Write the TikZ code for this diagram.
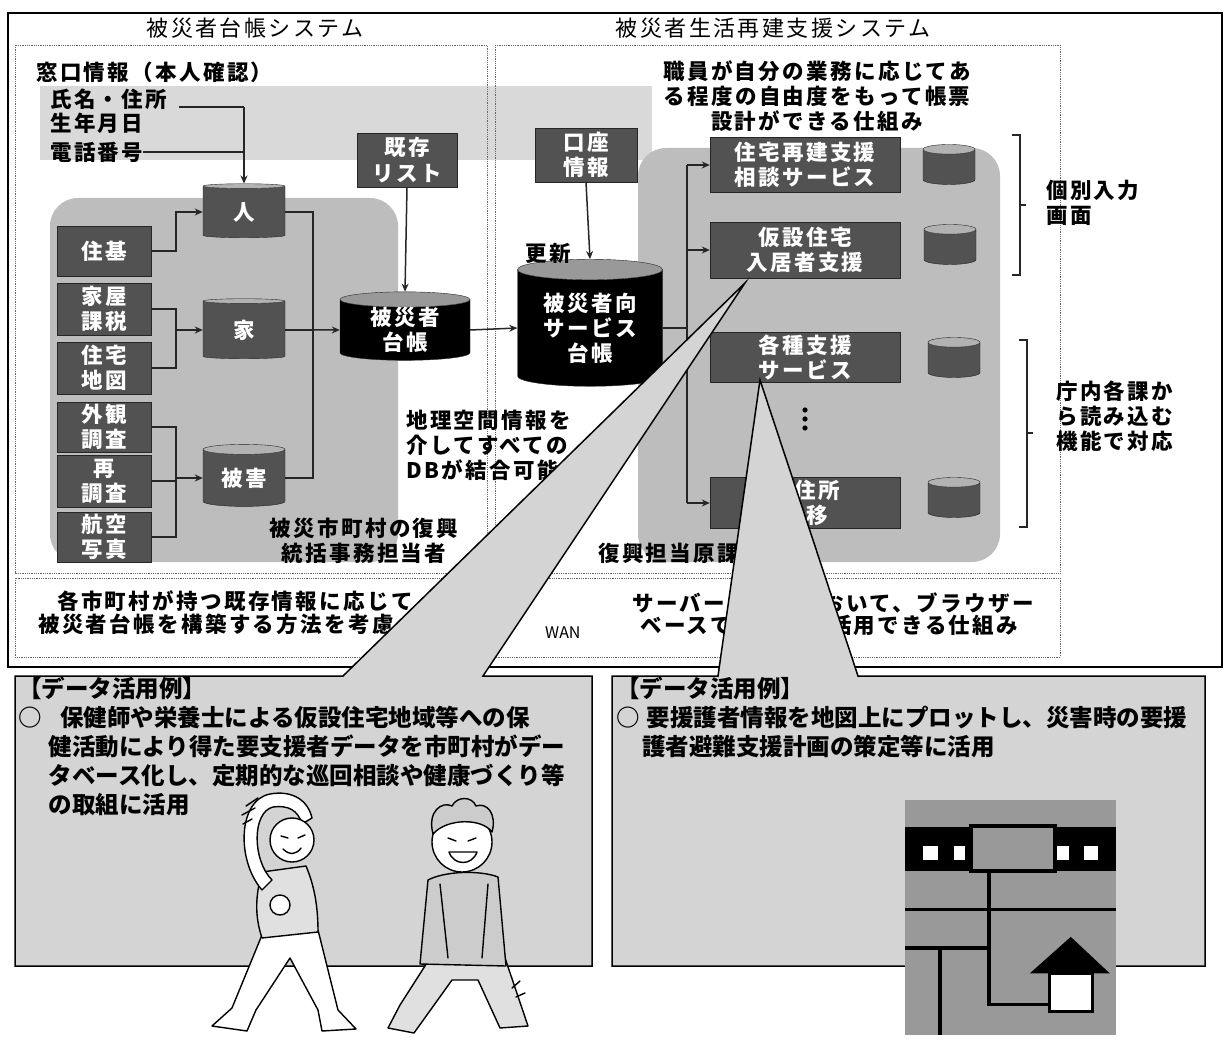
\documentclass[tikz,border=0pt]{standalone}
\usepackage{fontspec}
\setmainfont{Noto Sans CJK JP}
\newfontfamily\spaced{Noto Sans CJK JP}[LetterSpace=11]
\usetikzlibrary{positioning,shapes.geometric,arrows.meta,calc}

\begin{document}
\begin{tikzpicture}[x=1pt,y=-1pt,
    lbl/.style={inner sep=0pt, font={\spaced\bfseries\fontsize{21.5}{25}\selectfont}},
    title/.style={inner sep=0pt, font={\spaced\fontsize{22}{26}\selectfont}},
    note/.style={inner sep=0pt, anchor=north west, align=left, font={\bfseries\fontsize{23.5}{29}\selectfont}},
    src/.style={draw=black!85, fill=black!68, text=white, align=center, inner sep=0pt,
        minimum width=94pt, font={\spaced\bfseries\fontsize{21.5}{25}\selectfont}},
    svc/.style={src, minimum width=190pt},
    db/.style={cylinder, shape border rotate=90, aspect=0.22, draw=black!85,
        cylinder uses custom fill, cylinder body fill=black!68, cylinder end fill=black!30,
        text=white, inner sep=0pt, align=center, font={\spaced\bfseries\fontsize{21.5}{25}\selectfont}},
    maindb/.style={db, cylinder body fill=black, cylinder end fill=black!40},
    minidb/.style={db, aspect=0.45, minimum width=52pt, minimum height=40pt},
    panel/.style={draw=black!60, densely dotted, line width=0.8pt},
    wire/.style={draw=black!85, line width=1.5pt},
    flow/.style={wire, -{Stealth[length=8pt,width=7pt]}},
    callout/.style={draw=black, line width=1.5pt, fill=black!17, line join=miter},
    ink/.style={line width=1.4pt, line join=round, line cap=round},
  ]
  \useasboundingbox (0,0) rectangle (1226,1040);

  % frames and shaded areas
  \draw[line width=1.5pt] (8,13) rectangle (1222,667);
  \fill[black!15] (40,86) rectangle (652,160);
  \fill[black!26, rounded corners=28pt] (50,198) rectangle (398,562);
  \fill[black!26, rounded corners=28pt] (638,148) rectangle (1000,562);
  \draw[panel] (15,45) rectangle (487,573);
  \draw[panel] (495,45) rectangle (1060,573);
  \draw[panel] (15,578) rectangle (1060,657);

  \node[title] (sysA) at (255,28) {被災者台帳システム};
  \node[title] (sysB) at (773,28) {被災者生活再建支援システム};

  % counter information
  \node[lbl, anchor=west] (madoguchi) at (36,72) {窓口情報（本人確認）};
  \node[lbl, anchor=west] (shimei) at (50,99) {氏名・住所};
  \node[lbl, anchor=west] (seinen) at (50,123) {生年月日};
  \node[lbl, anchor=west] (denwa) at (50,152) {電話番号};

  % source data
  \node[src, minimum height=50pt] (juki) at (104,251) {住基};
  \node[src, minimum height=52pt] (kaoku) at (104,309) {家屋\\課税};
  \node[src, minimum height=52pt] (chizu) at (104,368) {住宅\\地図};
  \node[src, minimum height=50pt] (gaikan) at (104,427) {外観\\調査};
  \node[src, minimum height=52pt] (saichosa) at (104,481) {再\\調査};
  \node[src, minimum height=50pt] (koku) at (104,537) {航空\\写真};

  % databases of the ledger system
  \node[db, minimum width=82pt, minimum height=54pt] (hito) at (244,212) {人};
  \node[db, minimum width=82pt, minimum height=60pt] (ie) at (244,330) {家};
  \node[db, minimum width=82pt, minimum height=62pt] (higai) at (244,478) {被害};
  \node[maindb, minimum width=130pt, minimum height=68pt] (daicho) at (405,330) {被災者\\台帳};
  \node[src, minimum width=100pt, minimum height=54pt] (kizon) at (407,160) {既存\\リスト};

  % support system
  \node[src, minimum width=102pt, minimum height=54pt] (koza) at (586,155) {口座\\情報};
  \node[maindb, minimum width=145pt, minimum height=127pt] (service) at (590,328) {被災者向\\サービス\\台帳};
  \node[lbl] (koshin) at (548,253) {更新};

  \node[svc, minimum height=55pt] (s1) at (805,165) {住宅再建支援\\相談サービス};
  \node[svc, minimum height=56pt] (s2) at (805,250) {仮設住宅\\入居者支援};
  \node[svc, minimum height=50pt] (s3) at (805,357) {各種支援\\サービス};
  \node[svc, minimum height=51pt] (s4) at (805,503) {仮住所\\変移};

  \node[minidb] (c1) at (949,167) {\phantom{人}};
  \node[minidb] (c2) at (950,247) {\phantom{人}};
  \node[minidb] (c3) at (954,360) {\phantom{人}};
  \node[minidb] (c4) at (954,500) {\phantom{人}};
  \foreach \y in {410,419,428} \fill (805,\y) circle (2.6);

  % notes
  \node[lbl, anchor=north, align=center] (shokuin) at (817,60)
    {職員が自分の業務に応じてあ\\る程度の自由度をもって帳票\\設計ができる仕組み};
  \node[lbl, anchor=north west, align=left] (chiri) at (406,410)
    {地理空間情報を\\介してすべての\\DBが結合可能};
  \node[lbl, anchor=north, align=center] (tantoA) at (364,518)
    {被災市町村の復興\\統括事務担当者};
  \node[lbl, anchor=west] (tantoB) at (598,553) {復興担当原課};
  \node[lbl, anchor=north west, align=left] (kobetsu) at (1046,180) {個別入力\\画面};
  \node[lbl, anchor=north west, align=left] (chonai) at (1056,381)
    {庁内各課か\\ら読み込む\\機能で対応};
  \node[lbl, anchor=west] (hoshinA) at (57,601) {各市町村が持つ既存情報に応じて};
  \node[lbl, anchor=west] (hoshinB) at (38,624) {被災者台帳を構築する方法を考慮};
  \node[lbl, anchor=west] (hoshinC) at (632,603) {サーバーを庁内において、ブラウザー};
  \node[lbl, anchor=west] (hoshinD) at (640,625) {ベースで全庁的に活用できる仕組み};
  \node[lbl, anchor=west, font=\fontsize{16}{18}\selectfont] (wan) at (545,633) {WAN};

  % brackets
  \draw[wire] (1012,135) -- (1020,135) -- (1020,275) -- (1012,275);
  \draw[wire] (1020,205) -- (1026,205);
  \draw[wire] (1019,340) -- (1027,340) -- (1027,527) -- (1019,527);
  \draw[wire] (1027,433) -- (1033,433);

  % connectors
  \draw[wire] ([xshift=12pt,yshift=-8pt]shimei.east) -- ([yshift=-8pt]shimei.east -| hito.north);
  \draw[wire] (denwa.east) -- (denwa.east -| hito.north);
  \draw[flow] ([yshift=-8pt]shimei.east -| hito.north) -- (hito.north);
  \draw[flow] (juki.east) -- ++(25,0) |- (hito.west);
  \draw[wire] (kaoku.east) -- ++(25,0) coordinate (k1) -- (k1 |- chizu.east) -- (chizu.east);
  \draw[flow] (k1 |- ie.west) -- (ie.west);
  \draw[wire] (gaikan.east) -- ++(25,0) coordinate (g1) -- (g1 |- koku.east) -- (koku.east);
  \draw[wire] (saichosa.east) -- (g1 |- saichosa.east);
  \draw[flow] (g1 |- higai.west) -- (higai.west);
  \draw[wire] (hito.east) -- ++(28,0) coordinate (h1) -- (h1 |- higai.east) -- (higai.east);
  \draw[wire] (ie.east) -- (h1 |- ie.east);
  \draw[flow] (h1 |- ie.east) -- (daicho.west);
  \draw[flow] (kizon.south) -- (daicho.north);
  \draw[flow] (daicho.east) -- (service.west);
  \draw[flow] (koza.south) -- (service.north);
  \coordinate (t1) at (687,165);
  \coordinate (t4) at (687,503);
  \draw[wire] (service.east) -- (service.east -| t1);
  \draw[wire] (t1) -- (t4);
  \draw[flow] (t1) -- (s1.west);
  \draw[flow] (t1 |- s2.west) -- (s2.west);
  \draw[flow] (t4) -- (s4.west);

  % callouts
  \draw[callout] (15,676) -- (343,676) -- (745,283) -- (483,676) -- (592,676)
    -- (592,966) -- (15,966) -- cycle;
  \draw[callout] (612,676) -- (718,676) -- (760,380) -- (858,676) -- (1205,676)
    -- (1205,966) -- (612,966) -- cycle;

  \node[note] (reiA) at (18,677) {【データ活用例】\\
    ○\hspace*{0.8em}保健師や栄養士による仮設住宅地域等への保\\
    \hspace*{1.3em}健活動により得た要支援者データを市町村がデー\\
    \hspace*{1.3em}タベース化し、定期的な巡回相談や健康づくり等\\
    \hspace*{1.3em}の取組に活用};
  \node[note] (reiB) at (616,677) {【データ活用例】\\
    ○\hspace*{0.3em}要援護者情報を地図上にプロットし、災害時の要援\\
    \hspace*{1.1em}護者避難支援計画の策定等に活用};

  % stretching figure
  \begin{scope}[ink]
    \draw[fill=white] (262,935) -- (232,1008) -- (212,1026) -- (247,1031) -- (256,1010)
      -- (290,958) -- (318,1010) -- (322,1031) -- (356,1029) -- (338,1010) -- (318,930) -- cycle;
    \draw[fill=black!12] (262,872) .. controls (254,900) and (256,920) .. (262,938)
      -- (318,932) .. controls (318,905) and (314,885) .. (306,866) -- cycle;
    \draw[fill=white] (262,890) .. controls (236,860) and (238,800) .. (270,794)
      .. controls (292,790) and (308,800) .. (312,818) -- (302,824)
      .. controls (298,810) and (288,805) .. (273,807)
      .. controls (252,812) and (252,860) .. (272,880) -- cycle;
    \draw[fill=white] (292,840) circle (22);
    \draw (281,836) -- (288,838) (298,838) -- (305,835);
    \draw (283,849) .. controls (290,856) and (297,854) .. (301,848);
    \draw[fill=white] (280,905) circle (10);
    \draw (246,806) -- (258,798) (242,815) -- (255,808) (243,824) -- (252,819);
  \end{scope}

  % sitting figure
  \begin{scope}[ink]
    \draw[fill=black!12] (432,955) -- (400,1005) -- (388,1028) -- (414,1033) -- (452,980)
      -- (478,980) -- (500,1028) -- (528,1026) -- (505,958) -- cycle;
    \draw[fill=black!20] (428,880) -- (420,964) -- (506,966) -- (498,877)
      .. controls (480,870) and (445,871) .. (428,880) -- cycle;
    \draw (440,884) -- (448,958) (488,884) -- (482,958);
    \draw[fill=white] (462,842) circle (30);
    \draw[fill=black!20] (433,834) .. controls (427,811) and (442,801) .. (452,806)
      .. controls (457,796) and (472,796) .. (476,806)
      .. controls (487,802) and (497,814) .. (492,832)
      .. controls (482,818) and (447,818) .. (433,834) -- cycle;
    \draw (448,838) -- (456,841) (468,841) -- (476,838);
    \draw[fill=white] (449,852) .. controls (454,866) and (472,866) .. (477,852) -- cycle;
    \draw (512,988) -- (520,981) (516,997) -- (525,993);
  \end{scope}

  % map icon
  \begin{scope}[shift={(905,800)}, x=3.9pt, y=-3.65pt]
    \fill[black!40] (0,0) rectangle (54,64.5);
    \fill (0,7.5) rectangle (54,19.5);
    \foreach \a/\b in {4.5/8.5, 12.5/15.5, 39/42, 46/49.5}
      \fill[white] (\a,12.5) rectangle (\b,16.5);
    \draw[line width=4pt, fill=black!40] (17,7) rectangle (38.5,19.5);
    \draw[line width=3.5pt] (0,30) -- (54,30);
    \draw[line width=3.5pt] (21.5,19.5) -- (21.5,56) -- (37,56);
    \draw[line width=3.5pt] (0,40.5) -- (21.5,40.5);
    \draw[line width=3.5pt] (9,40.5) -- (9,64.5);
    \fill (32,47.5) -- (42.5,37.5) -- (52.5,47.5) -- cycle;
    \draw[line width=3pt, fill=white] (37,47.5) rectangle (48,58);
  \end{scope}
\end{tikzpicture}
\end{document}
